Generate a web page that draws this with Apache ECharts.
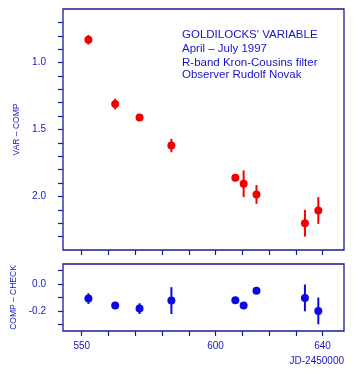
<!DOCTYPE html>
<html>
<head>
<meta charset="utf-8">
<script src="https://cdn.jsdelivr.net/npm/echarts@6/dist/echarts.min.js"></script>
<style>
html,body{margin:0;padding:0;background:#fff;}
#chart{width:358px;height:374px;}
</style>
</head>
<body>
<div id="chart"></div>
<script>
// Julian date offsets (JD - 2450000)
const jd = [552.5, 562.5, 571.6, 583.5, 607.4, 610.5, 615.3, 633.4, 638.4];
// VAR - COMP magnitudes and errors
const varComp = [0.83, 1.31, 1.41, 1.62, 1.86, 1.905, 1.985, 2.20, 2.105];
const varErr = [0.035, 0.04, 0.025, 0.05, 0.02, 0.10, 0.07, 0.10, 0.10];
// COMP - CHECK magnitudes and errors
const compCheck = [-0.108, -0.16, -0.183, -0.123, -0.12, -0.16, -0.05, -0.103, -0.20];
const checkErr = [0.04, 0.02, 0.04, 0.10, 0.015, 0.015, 0.015, 0.10, 0.10];
// ticks and labels
const xTicks = [550, 560, 570, 580, 590, 600, 610, 620, 630, 640];
const xLabels = [550, 600, 640];
const yTopTicks = [0.7, 0.8, 0.9, 1.0, 1.1, 1.2, 1.3, 1.4, 1.5, 1.6, 1.7, 1.8, 1.9, 2.0, 2.1, 2.2, 2.3];
const yTopLabels = [1.0, 1.5, 2.0];
const yBotTicks = [-0.3, -0.2, -0.1, 0.0, 0.1];
const yBotLabels = [-0.2, 0.0];

const axisCol = '#1a1a9c';
const textCol = '#1515c8';
const redCol = '#f00000';
const blueCol = '#0a0ae0';
const font = "'Liberation Sans', Arial, Helvetica, sans-serif";

const chart = echarts.init(document.getElementById('chart'), null, {renderer: 'canvas'});

function errBar(color) {
  return function (params, api) {
    const x = api.value(0), y = api.value(1), e = api.value(2);
    const p1 = api.coord([x, y - e]);
    const p2 = api.coord([x, y + e]);
    return {type: 'line', shape: {x1: p1[0], y1: p1[1], x2: p2[0], y2: p2[1]},
      style: {stroke: color, lineWidth: 2}};
  };
}

const xAxisBase = {
  type: 'value', min: 543, max: 648,
  axisLine: {show: false, onZero: false},
  splitLine: {show: false},
  axisTick: {show: true, customValues: xTicks, length: 5, inside: false, lineStyle: {color: axisCol, width: 1.2}}
};

const yAxisBase = {
  type: 'value',
  axisLine: {show: false, onZero: false},
  splitLine: {show: false},
  nameLocation: 'middle',
  nameGap: 42,
  nameTextStyle: {color: textCol, fontSize: 8.5, fontFamily: font}
};

chart.setOption({
  animation: false,
  backgroundColor: '#ffffff',
  title: [
    {text: "GOLDILOCKS' VARIABLE\nApril – July 1997", left: 182, top: 28.5, padding: 0,
      textStyle: {color: textCol, fontSize: 11.5, fontWeight: 'normal', fontFamily: font, lineHeight: 13.3}},
    {text: "R-band Kron-Cousins filter\nObserver Rudolf Novak", left: 182, top: 56.5, padding: 0,
      textStyle: {color: textCol, fontSize: 11.5, fontWeight: 'normal', fontFamily: font, lineHeight: 12.5}}
  ],
  grid: [
    {left: 63, top: 9, width: 281, height: 241, show: true, borderColor: axisCol, borderWidth: 1.3, backgroundColor: 'transparent'},
    {left: 63, top: 264, width: 281, height: 67, show: true, borderColor: axisCol, borderWidth: 1.3, backgroundColor: 'transparent'}
  ],
  xAxis: [
    Object.assign({}, xAxisBase, {gridIndex: 0, axisLabel: {show: false}}),
    Object.assign({}, xAxisBase, {gridIndex: 1,
      axisLabel: {show: true, customValues: xLabels, margin: 10, color: textCol, fontSize: 10, fontFamily: font},
      name: 'JD-2450000', nameLocation: 'end', nameGap: 0,
      nameTextStyle: {color: textCol, fontSize: 10, fontFamily: font, align: 'right', verticalAlign: 'top', padding: [25, 0, 0, 0]}})
  ],
  yAxis: [
    Object.assign({}, yAxisBase, {gridIndex: 0, min: 0.6, max: 2.4, inverse: true, name: 'VAR – COMP',
      axisTick: {show: true, customValues: yTopTicks, length: 5, lineStyle: {color: axisCol, width: 1.2}},
      axisLabel: {show: true, customValues: yTopLabels, margin: 17, color: textCol, fontSize: 10, fontFamily: font,
        formatter: v => Number(v).toFixed(1)}}),
    Object.assign({}, yAxisBase, {gridIndex: 1, min: -0.35, max: 0.15, name: 'COMP – CHECK',
      axisTick: {show: true, customValues: yBotTicks, length: 5, lineStyle: {color: axisCol, width: 1.2}},
      axisLabel: {show: true, customValues: yBotLabels, margin: 17, color: textCol, fontSize: 10, fontFamily: font,
        formatter: v => Number(v).toFixed(1)}})
  ],
  series: [
    {type: 'custom', xAxisIndex: 0, yAxisIndex: 0, renderItem: errBar(redCol),
      data: jd.map((x, i) => [x, varComp[i], varErr[i]]), z: 2},
    {type: 'scatter', xAxisIndex: 0, yAxisIndex: 0, symbol: 'circle', symbolSize: 8,
      itemStyle: {color: redCol, opacity: 1}, data: jd.map((x, i) => [x, varComp[i]]), z: 3},
    {type: 'custom', xAxisIndex: 1, yAxisIndex: 1, renderItem: errBar(blueCol),
      data: jd.map((x, i) => [x, compCheck[i], checkErr[i]]), z: 2},
    {type: 'scatter', xAxisIndex: 1, yAxisIndex: 1, symbol: 'circle', symbolSize: 8,
      itemStyle: {color: blueCol, opacity: 1}, data: jd.map((x, i) => [x, compCheck[i]]), z: 3}
  ]
});
</script>
</body>
</html>
